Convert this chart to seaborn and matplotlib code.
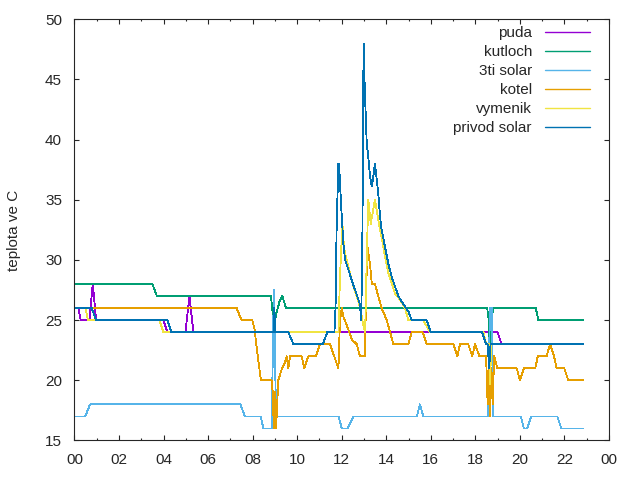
import pandas as pd
import matplotlib
matplotlib.use('Agg')
import matplotlib.pyplot as plt
from matplotlib.lines import Line2D
from matplotlib.ticker import MultipleLocator, FuncFormatter
import seaborn as sns

sns.set_style('ticks')
plt.rcParams['font.family'] = ['Liberation Sans', 'DejaVu Sans']
plt.rcParams['font.size'] = 11

# time in hours of the day, temperature in C
puda_t = [0, 0.17, 0.28, 0.67, 0.82, 0.97, 3.99, 4.17, 4.98, 5.16, 5.34, 19.0, 19.17, 22.86]
puda_v = [26, 26, 25, 25, 28, 25, 25, 24, 24, 27, 24, 24, 23, 23]

kutloch_t = [0, 3.5, 3.7, 8.82, 8.93, 8.98, 9.05, 9.2, 9.33, 9.5, 18.53, 18.6, 18.65,
             18.72, 18.8, 20.71, 20.83, 22.86]
kutloch_v = [28, 28, 27, 27, 25, 24.5, 25.5, 26.5, 27, 26, 26, 25, 22.5,
             25, 26, 26, 25, 25]

solar3_t = [0, 0.48, 0.70, 7.45, 7.65, 8.36, 8.48, 8.85, 8.95, 9.05, 11.86, 12.0, 12.26,
            12.52, 15.37, 15.51, 15.66, 18.55, 18.66, 18.73, 18.8, 20.04, 20.18, 20.33,
            20.5, 21.68, 21.86, 22.86]
solar3_v = [17, 17, 18, 18, 17, 17, 16, 16, 27.5, 17, 17, 16, 16,
            17, 17, 18, 17, 17, 26, 26, 17, 17, 16, 16,
            17, 17, 16, 16]

kotel_t = [0, 7.28, 7.5, 7.98, 8.08, 8.2, 8.3, 8.37, 8.85, 8.9, 8.95, 9.0, 9.05, 9.15,
           9.3, 9.45, 9.53, 9.6, 9.68, 10.2, 10.32, 10.5, 10.84, 11.02, 11.47, 11.85,
           11.92, 12.0, 12.07, 12.22, 12.45, 12.67, 12.82, 13.04, 13.1, 13.16, 13.27,
           13.35, 13.49, 13.64, 13.79, 14.02, 14.17, 14.32, 14.99, 15.14, 15.63, 15.82,
           17.01, 17.19, 17.31, 17.68, 17.86, 17.98, 18.18, 18.48, 18.55, 18.6, 18.66,
           18.72, 18.78, 18.84, 18.99, 19.86, 20.0, 20.18, 20.69, 20.8, 21.2, 21.35,
           21.53, 21.65, 21.99, 22.17, 22.86]
kotel_v = [26, 26, 25, 25, 24.3, 22.4, 21, 20, 20, 19, 16, 19, 16, 20,
           20.9, 21.5, 22, 21, 22, 22, 21, 22, 22, 23, 23, 21,
           25, 26, 25.3, 24.6, 23.4, 23, 22, 22, 28, 31, 29.6,
           28, 28, 27, 26, 25, 24, 23, 23, 24, 24, 23,
           23, 22, 23, 23, 22, 23, 22, 22, 18, 22, 17,
           21, 18, 22, 21, 21, 20, 21, 21, 22, 22, 23,
           22, 21, 21, 20, 20]

vymenik_t = [0, 0.5, 0.6, 3.81, 3.99, 11.85, 11.92, 12.03, 12.1, 12.22, 12.37, 12.52,
             12.67, 12.82, 12.95, 13.05, 13.12, 13.19, 13.3, 13.49, 13.64, 13.79, 13.94,
             14.09, 14.24, 14.39, 14.62, 14.84, 14.99, 15.66, 15.96, 18.36, 18.48, 18.6,
             18.65, 18.72, 22.86]
vymenik_v = [26, 26, 25, 25, 24, 24, 28.6, 33, 31, 30, 28.9, 27.8,
             27, 26.1, 24.7, 24, 30, 35, 33, 35, 33.3, 31.9, 30.3,
             28.9, 28.1, 27.2, 26.7, 26, 25, 25, 24, 24, 23, 23,
             19.7, 23, 23]

privod_t = [0, 0.77, 0.97, 4.17, 4.35, 8.93, 8.97, 9.02, 9.6, 9.83, 11.15, 11.35, 11.67,
            11.72, 11.77, 11.85, 11.88, 11.92, 12.0, 12.07, 12.15, 12.3, 12.45, 12.6,
            12.75, 12.82, 12.87, 12.92, 12.98, 13.02, 13.12, 13.19, 13.27, 13.35, 13.42,
            13.49, 13.64, 13.72, 13.79, 13.94, 14.09, 14.24, 14.39, 14.54, 14.77, 15.0,
            15.14, 15.81, 16.0, 18.3, 18.48, 18.55, 18.62, 18.68, 22.86]
privod_v = [26, 26, 25, 25, 24, 24, 26, 24, 24, 23, 23, 24, 24,
            26, 32.8, 38, 38, 36.4, 33.6, 31.4, 30, 29.2, 28.3, 27.5,
            26.7, 26.3, 25, 30, 48, 45, 39.7, 38.6, 36.9, 36.1, 37,
            38, 35.5, 33.6, 32.5, 31.1, 29.7, 28.6, 27.8, 27, 26.3, 25.7,
            25, 25, 24, 24, 23, 23, 21, 23, 23]

names = ['puda', 'kutloch', '3ti solar', 'kotel', 'vymenik', 'privod solar']
colors = ['#9400d3', '#009e73', '#56b4e9', '#e69f00', '#f0e442', '#0072b2']
series_t = [puda_t, kutloch_t, solar3_t, kotel_t, vymenik_t, privod_t]
series_v = [puda_v, kutloch_v, solar3_v, kotel_v, vymenik_v, privod_v]

frames = []
for name, t, v in zip(names, series_t, series_v):
    frames.append(pd.DataFrame({'hour': t, 'temp': v, 'sensor': name}))
df = pd.concat(frames, ignore_index=True)

fig = plt.figure(figsize=(6.4, 4.8), dpi=100)
ax = fig.add_axes([0.1164, 0.0823, 0.8352, 0.8775])

sns.lineplot(data=df, x='hour', y='temp', hue='sensor', hue_order=names,
             palette=dict(zip(names, colors)), estimator=None, sort=False,
             lw=0.6, antialiased=False, legend=False, ax=ax)

ax.set_xlim(0, 24)
ax.set_ylim(15, 50)
ax.xaxis.set_major_locator(MultipleLocator(2))
ax.xaxis.set_minor_locator(MultipleLocator(1))
ax.xaxis.set_major_formatter(FuncFormatter(lambda x, pos: '%02d' % (int(round(x)) % 24)))
ax.yaxis.set_major_locator(MultipleLocator(5))
ax.tick_params(which='both', direction='in', top=True, right=True, width=0.8,
               labelsize=11, pad=9)
ax.tick_params(which='major', length=3.3)
ax.tick_params(which='minor', length=1.7)
for s in ax.spines.values():
    s.set_linewidth(0.8)

ax.set_xlabel('')
ax.set_ylabel('teplota ve C', fontsize=11)
ax.yaxis.set_label_coords(-0.1, 0.5)

# legend proxies, drawn smooth so the short samples keep their colour
handles = [Line2D([], [], color=c, lw=1.0) for c in colors]
ax.legend(handles, names, loc='upper right', bbox_to_anchor=(0.9645, 0.984),
          frameon=False, markerfirst=False, handlelength=2.95, handletextpad=0.85,
          labelspacing=0.33, borderpad=0, borderaxespad=0, fontsize=11)

plt.savefig('out.png', dpi=100)
